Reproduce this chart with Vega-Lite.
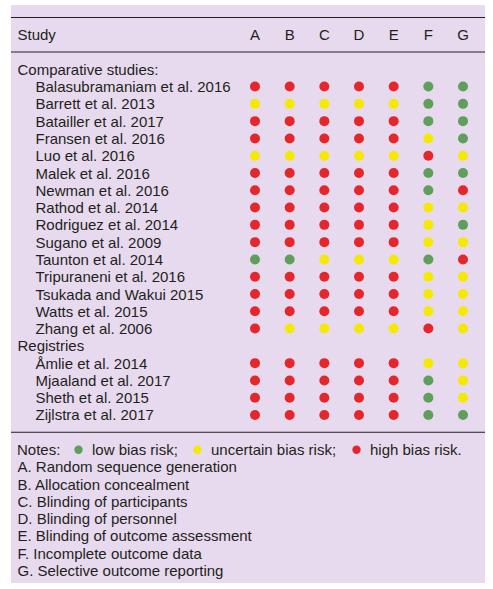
{
  "$schema": "https://vega.github.io/schema/vega-lite/v6.json",
  "width": 474,
  "height": 578,
  "autosize": {"type": "none"},
  "padding": {"left": 11, "top": 5, "right": 8, "bottom": 6},
  "background": "white",
  "config": {
    "font": "Liberation Sans",
    "view": {"fill": "#e7daee", "stroke": null}
  },
  "datasets": {
    "domains": [
      {"letter": "A", "name": "Random sequence generation"},
      {"letter": "B", "name": "Allocation concealment"},
      {"letter": "C", "name": "Blinding of participants"},
      {"letter": "D", "name": "Blinding of personnel"},
      {"letter": "E", "name": "Blinding of outcome assessment"},
      {"letter": "F", "name": "Incomplete outcome data"},
      {"letter": "G", "name": "Selective outcome reporting"}
    ],
    "separators": [
      {"line": "_top"},
      {"line": "_head"},
      {"line": "_rule"}
    ],
    "studies": [
      {"group": "Comparative studies", "study": "Balasubramaniam et al. 2016", "A": "high", "B": "high", "C": "high", "D": "high", "E": "high", "F": "low", "G": "low"},
      {"group": "Comparative studies", "study": "Barrett et al. 2013", "A": "uncertain", "B": "uncertain", "C": "uncertain", "D": "uncertain", "E": "uncertain", "F": "low", "G": "low"},
      {"group": "Comparative studies", "study": "Batailler et al. 2017", "A": "high", "B": "high", "C": "high", "D": "high", "E": "high", "F": "low", "G": "low"},
      {"group": "Comparative studies", "study": "Fransen et al. 2016", "A": "high", "B": "high", "C": "high", "D": "high", "E": "high", "F": "uncertain", "G": "low"},
      {"group": "Comparative studies", "study": "Luo et al. 2016", "A": "uncertain", "B": "uncertain", "C": "uncertain", "D": "uncertain", "E": "uncertain", "F": "high", "G": "uncertain"},
      {"group": "Comparative studies", "study": "Malek et al. 2016", "A": "high", "B": "high", "C": "high", "D": "high", "E": "high", "F": "low", "G": "low"},
      {"group": "Comparative studies", "study": "Newman et al. 2016", "A": "high", "B": "high", "C": "high", "D": "high", "E": "high", "F": "low", "G": "high"},
      {"group": "Comparative studies", "study": "Rathod et al. 2014", "A": "high", "B": "high", "C": "high", "D": "high", "E": "high", "F": "uncertain", "G": "uncertain"},
      {"group": "Comparative studies", "study": "Rodriguez et al. 2014", "A": "high", "B": "high", "C": "high", "D": "high", "E": "high", "F": "uncertain", "G": "low"},
      {"group": "Comparative studies", "study": "Sugano et al. 2009", "A": "high", "B": "high", "C": "high", "D": "high", "E": "high", "F": "uncertain", "G": "uncertain"},
      {"group": "Comparative studies", "study": "Taunton et al. 2014", "A": "low", "B": "low", "C": "uncertain", "D": "uncertain", "E": "uncertain", "F": "low", "G": "high"},
      {"group": "Comparative studies", "study": "Tripuraneni et al. 2016", "A": "high", "B": "high", "C": "high", "D": "high", "E": "high", "F": "uncertain", "G": "uncertain"},
      {"group": "Comparative studies", "study": "Tsukada and Wakui 2015", "A": "high", "B": "high", "C": "high", "D": "high", "E": "high", "F": "uncertain", "G": "uncertain"},
      {"group": "Comparative studies", "study": "Watts et al. 2015", "A": "high", "B": "high", "C": "high", "D": "high", "E": "high", "F": "uncertain", "G": "uncertain"},
      {"group": "Comparative studies", "study": "Zhang et al. 2006", "A": "high", "B": "uncertain", "C": "uncertain", "D": "uncertain", "E": "uncertain", "F": "high", "G": "uncertain"},
      {"group": "Registries", "study": "Åmlie et al. 2014", "A": "high", "B": "high", "C": "high", "D": "high", "E": "high", "F": "uncertain", "G": "uncertain"},
      {"group": "Registries", "study": "Mjaaland et al. 2017", "A": "high", "B": "high", "C": "high", "D": "high", "E": "high", "F": "low", "G": "uncertain"},
      {"group": "Registries", "study": "Sheth et al. 2015", "A": "high", "B": "high", "C": "high", "D": "high", "E": "high", "F": "low", "G": "uncertain"},
      {"group": "Registries", "study": "Zijlstra et al. 2017", "A": "high", "B": "high", "C": "high", "D": "high", "E": "high", "F": "low", "G": "low"}
    ]
  },
  "layer": [
    {
      "data": {"name": "separators"},
      "mark": {"type": "rule", "color": "#231f20", "strokeWidth": 1.1},
      "encoding": {
        "y": {
          "field": "line",
          "type": "nominal",
          "scale": {
            "type": "point",
            "padding": 0.72,
            "domain": [
              "_top", "Study", "_head", "Comparative studies:",
              "Balasubramaniam et al. 2016", "Barrett et al. 2013", "Batailler et al. 2017", "Fransen et al. 2016", "Luo et al. 2016",
              "Malek et al. 2016", "Newman et al. 2016", "Rathod et al. 2014", "Rodriguez et al. 2014", "Sugano et al. 2009",
              "Taunton et al. 2014", "Tripuraneni et al. 2016", "Tsukada and Wakui 2015", "Watts et al. 2015", "Zhang et al. 2006",
              "Registries",
              "Åmlie et al. 2014", "Mjaaland et al. 2017", "Sheth et al. 2015", "Zijlstra et al. 2017",
              "_rule", "_notes",
              "A. Random sequence generation", "B. Allocation concealment", "C. Blinding of participants", "D. Blinding of personnel",
              "E. Blinding of outcome assessment", "F. Incomplete outcome data", "G. Selective outcome reporting"
            ]
          },
          "axis": {
            "title": null,
            "orient": "left",
            "domain": false,
            "ticks": false,
            "tickSize": 0,
            "grid": false,
            "labelExpr": "indexof(datum.value, '_') == 0 ? '' : datum.value",
            "labelAlign": "left",
            "labelBaseline": "middle",
            "labelFontSize": 15,
            "labelColor": "#231f20",
            "labelLimit": 600,
            "labelOverlap": false,
            "labelPadding": {"condition": {"test": "datum.value == 'Study' || datum.value == 'Comparative studies:' || datum.value == 'Registries' || indexof(datum.value, '. ') == 1", "value": -6}, "value": -24}
          }
        }
      }
    },
    {
      "data": {"name": "domains"},
      "mark": {"type": "text", "fontSize": 15, "color": "#231f20", "baseline": "middle", "align": "center"},
      "encoding": {
        "x": {
          "field": "letter",
          "type": "nominal",
          "axis": null,
          "scale": {"type": "point", "domain": ["A", "B", "C", "D", "E", "F", "G"], "range": [244, 452], "padding": 0}
        },
        "y": {"datum": "Study", "type": "nominal"},
        "text": {"field": "letter"}
      }
    },
    {
      "data": {"name": "studies"},
      "transform": [{"fold": ["A", "B", "C", "D", "E", "F", "G"], "as": ["domain", "risk"]}],
      "mark": {"type": "circle", "size": 100, "opacity": 1},
      "encoding": {
        "x": {"field": "domain", "type": "nominal", "axis": null},
        "y": {"field": "study", "type": "nominal"},
        "color": {
          "field": "risk",
          "type": "nominal",
          "scale": {"domain": ["low", "uncertain", "high"], "range": ["#5f9e5b", "#f6e900", "#e5262b"]},
          "legend": {
            "title": "Notes:",
            "orient": "none",
            "legendX": 6,
            "legendY": 437,
            "direction": "horizontal",
            "titleOrient": "left",
            "titleFontSize": 15,
            "titleFontWeight": "normal",
            "titleColor": "#231f20",
            "titlePadding": 10,
            "labelFontSize": 15,
            "labelColor": "#231f20",
            "labelOffset": 6,
            "columnPadding": 12,
            "symbolType": "circle",
            "symbolSize": 70,
            "symbolStrokeWidth": 0,
            "symbolOpacity": 1,
            "labelLimit": 300,
            "labelExpr": "datum.label == 'high' ? 'high bias risk.' : datum.label + ' bias risk;'"
          }
        }
      }
    }
  ]
}
